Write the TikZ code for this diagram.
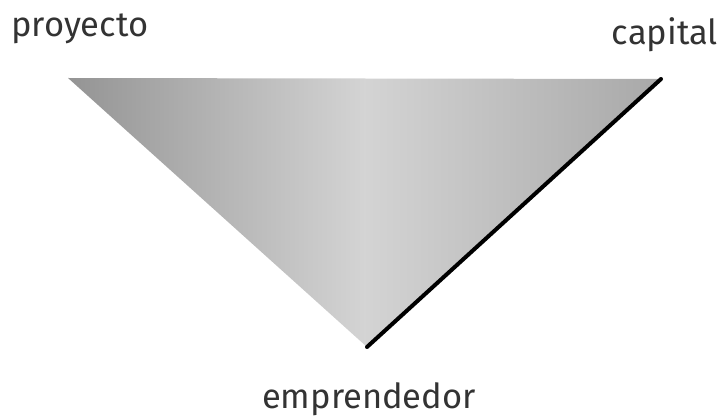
\documentclass[tikz,border=0pt]{standalone}
\usepackage{fontspec}
\setmainfont{Fira Sans}
\begin{document}
\begin{tikzpicture}[x=1pt,y=-1pt,
  lbl/.style={inner sep=0pt,font=\fontsize{34.5}{40}\selectfont,text=black!80}]
\useasboundingbox (0,0) rectangle (724,417);
\coordinate (pl) at (68,78);
\coordinate (pr) at (661,79);
\coordinate (pb) at (367,347);
\shade[left color=black!42,right color=black!34,middle color=black!17,shading angle=90] (pl) -- (pr) -- (pb) -- cycle;
\draw[line width=4pt,line cap=round] (pr) -- (pb);
\node[lbl,anchor=base west] (proy) at (11,37) {proyecto};
\node[lbl,anchor=base east] (cap) at (718,45) {capital};
\node[lbl,anchor=base] (emp) at (369,408) {emprendedor};
\end{tikzpicture}
\end{document}
